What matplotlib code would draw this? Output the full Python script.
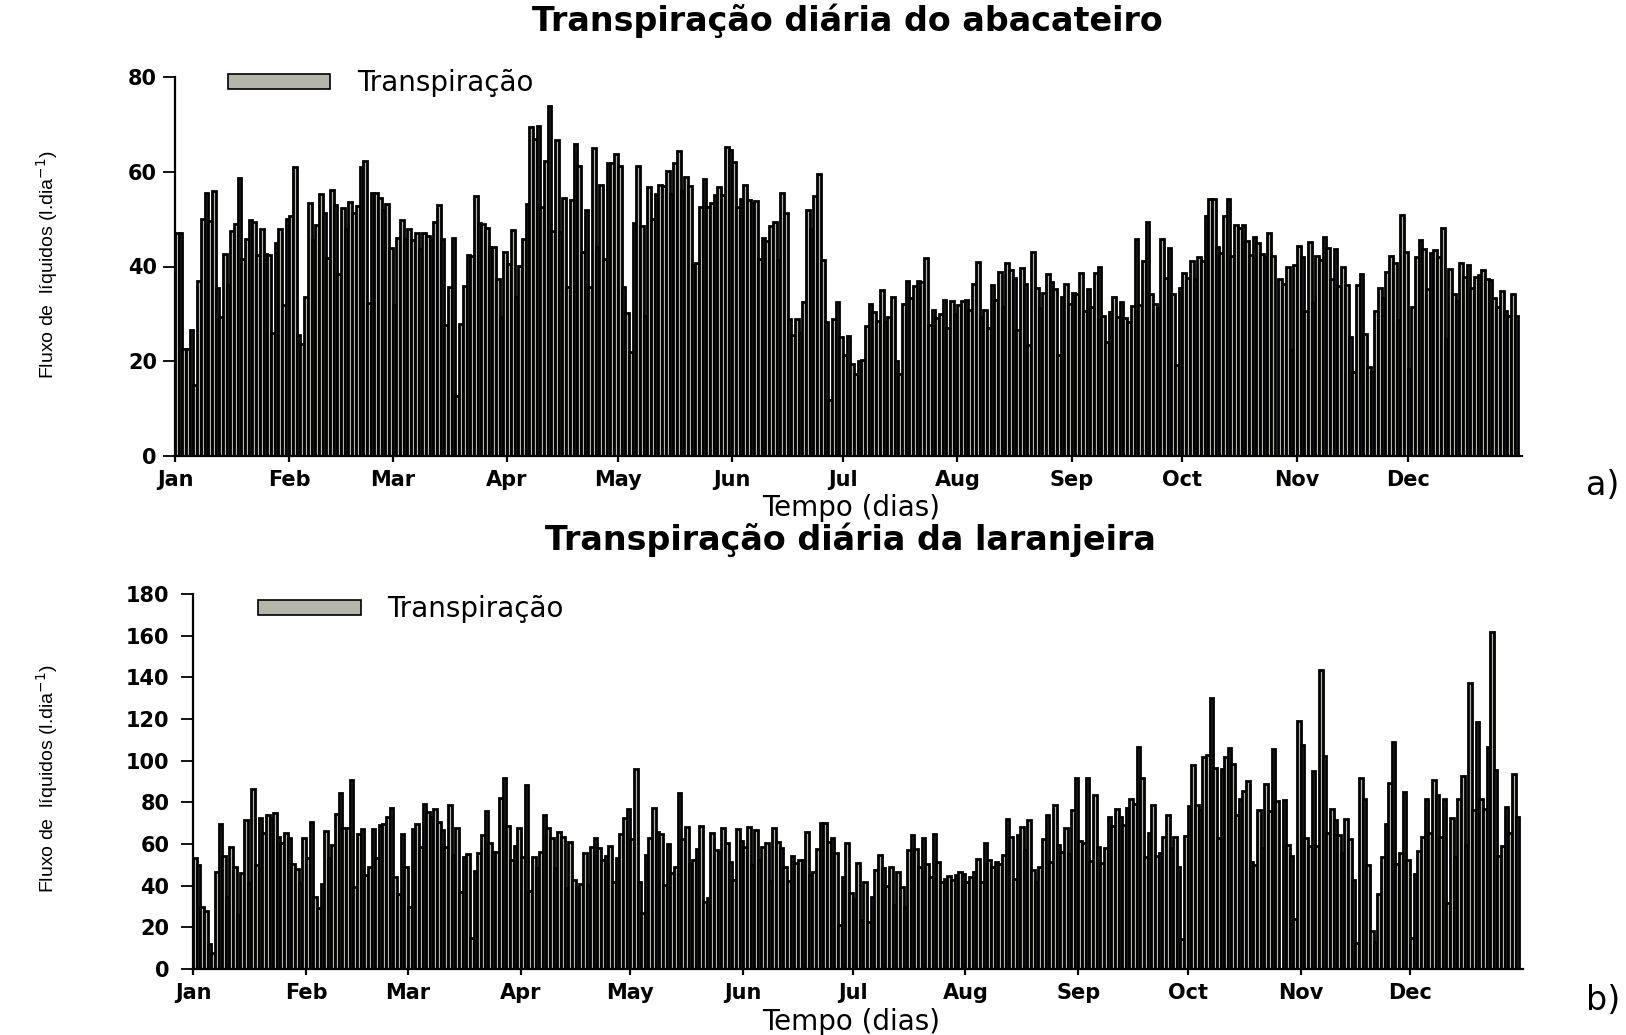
import numpy as np
import matplotlib
matplotlib.use('Agg')
import matplotlib.pyplot as plt

# meses e dia do ano em que cada um começa
meses = ['Jan', 'Feb', 'Mar', 'Apr', 'May', 'Jun', 'Jul', 'Aug', 'Sep', 'Oct', 'Nov', 'Dec']
inicio_mes = [0, 31, 59, 90, 120, 151, 181, 212, 243, 273, 304, 334]

# transpiração diária do abacateiro (l/dia), um mês por linha
abacateiro = [
    47, 47, 22.5, 22.5, 26.7, 15, 37, 50, 55.5, 49.6, 56, 35.5, 29.3, 42.6, 36, 47.4, 49, 58.6, 41.5, 45.8, 49.8, 49.3, 42.4, 48, 42.7, 42.4, 26, 45, 47.9, 31.8, 50,
    50.6, 61, 25.6, 23.7, 33.5, 53.3, 45.5, 48.7, 55.4, 51.3, 41.8, 56.1, 53, 38.5, 52.3, 47.9, 53.7, 51.2, 52.8, 61, 62.3, 32.2, 55.6, 55.6, 54.5, 52, 53.1, 43.8,
    31.8, 46, 49.8, 45.9, 47.9, 45.5, 47, 43.6, 47, 46.5, 45.9, 49.4, 53, 45.8, 27.6, 35.7, 46, 12.7, 27.9, 35.9, 42.5, 42.2, 54.8, 49.1, 49, 48.2, 44.1, 44.1, 37.3, 29.4, 43,
    40.5, 47.7, 33.5, 40.1, 45.8, 53.2, 69.4, 67, 69.6, 52.6, 62.3, 73.8, 47.5, 66.6, 47.2, 54.4, 35.6, 54, 65.9, 61.2, 43.1, 52, 35.7, 65.1, 44.1, 57.3, 41.5, 61.9, 61.9, 63.8,
    61.2, 35.6, 30.2, 22, 49.1, 61.2, 48.6, 29.5, 56.7, 50, 55.4, 57.1, 56.9, 60.2, 55.3, 61.8, 64.3, 55.9, 58.8, 56.9, 40.3, 40.7, 52.6, 58.5, 52.6, 53.5, 55.1, 56.7, 55.1, 65.2, 64.5,
    62, 52.6, 54.2, 57.1, 54, 53.5, 53.9, 41.5, 46.1, 45.4, 48.6, 49.4, 41.4, 55.5, 51.3, 29, 25.5, 29, 26, 32.5, 52, 47.9, 54.8, 59.5, 41.4, 28.2, 11.9, 29, 32.5, 25.1,
    21.3, 25.4, 19.5, 17.4, 20, 20.3, 27.5, 32, 30.4, 28.5, 35, 28.2, 29.4, 33.6, 20.1, 17.4, 32.1, 36.9, 33.4, 35.9, 36.9, 36.7, 41.7, 27.6, 30.9, 29.2, 29.9, 33, 27, 32.7, 30,
    31.8, 32.8, 33, 30.8, 36.4, 41, 29.4, 30.8, 27, 36.1, 32.9, 38.9, 31.5, 40.7, 39.2, 37.6, 26.6, 39.6, 36.4, 23.4, 43.1, 35.5, 31.3, 34.5, 38.5, 36.7, 35.2, 21.4, 33.6, 36.4, 32,
    34.5, 34.3, 38.7, 30.7, 35.2, 31.4, 38.7, 39.8, 29.5, 24, 30.4, 33.5, 29.3, 32.6, 29.2, 28.2, 31.6, 45.8, 31.8, 41.2, 49.3, 34.1, 32.1, 31.3, 45.8, 37.6, 43.8, 34.3, 19.3, 35.5,
    38.7, 37.5, 41.2, 37.3, 42.1, 41.2, 50.6, 54.2, 54.2, 44.2, 42.8, 50.7, 54.2, 42.2, 48.7, 48.1, 48.7, 45.4, 42.4, 46.3, 44.9, 42.6, 41.9, 47, 42.2, 0, 37.4, 36.4, 40, 22.3, 40.3,
    44.4, 42.1, 30.7, 45.1, 32.3, 42.2, 41.4, 46.3, 43.9, 37.3, 43.6, 35.9, 40, 36, 25.1, 17.7, 36, 38.5, 25.8, 18.7, 17.7, 30.6, 35.5, 33.3, 38.9, 42.2, 40.7, 28.7, 50.8, 43.1,
    18.4, 31.4, 41.9, 45.6, 43.6, 35.2, 42.8, 43.5, 41.9, 48.1, 24.6, 39.4, 34.3, 32.7, 40.8, 37.8, 40.3, 35.5, 37.8, 38.3, 39.3, 37.3, 37.1, 33.3, 31.5, 34.8, 30.7, 29.5, 34.1, 29.5,
]

# transpiração diária da laranjeira (l/dia)
laranjeira = [
    53.5, 50, 30, 27.7, 12, 7.7, 46.4, 69.5, 54.3, 34.4, 58.8, 49.2, 26, 46, 71.3, 41.2, 86.3, 49.7, 72.4, 65.5, 74, 72.7, 75.1, 63.6, 60.7, 65.2, 62.8, 50.4, 48.1, 41.2, 62.7,
    53.1, 70.5, 34.5, 29.3, 40.8, 66.3, 53.5, 59.6, 74.3, 84.4, 67.6, 67.6, 90.8, 39.6, 64.9, 67.1, 44.9, 48.9, 67.1, 53.2, 69.2, 69.5, 73.2, 77.2, 44.4, 36, 64.9, 49.2,
    30, 67.1, 69.5, 58.8, 79.3, 75.6, 72.9, 76.9, 70.8, 66.5, 58.8, 78.6, 54.5, 67.9, 36.8, 54, 55.3, 14.7, 47.2, 55.6, 64.3, 75.9, 60.4, 56.1, 56.4, 82, 91.9, 68.7, 52.4, 59.1, 67.6,
    54, 88.4, 37.6, 54, 48.4, 56.1, 74, 67.9, 62.7, 48.4, 66, 63.3, 38.8, 61.2, 42.5, 39.3, 40.9, 55.9, 40.4, 58.8, 63.1, 58.3, 52.4, 54.3, 59.1, 42, 53.5, 64.9, 72.4, 76.9,
    62.3, 96.1, 41.6, 26.9, 54.5, 63.1, 77.5, 66, 64.9, 40.4, 59.9, 46, 48.8, 84.7, 62.5, 68.1, 50.8, 52.1, 57.7, 68.7, 32, 34, 65.5, 57.2, 56.4, 67.9, 60.4, 51.6, 42.8, 67.1, 61.5,
    58.8, 68.1, 50, 66.8, 52.4, 58.8, 60.4, 42.4, 67.6, 61.2, 58, 49.2, 42.4, 54.3, 50.8, 52.4, 52.1, 66, 44.9, 46.8, 57.5, 70.3, 70.3, 61.2, 62.8, 55.9, 20.9, 44.4, 60.7, 36.4,
    33.7, 50.8, 23.7, 41.7, 22.4, 34.8, 47.6, 54.5, 48.4, 40, 48.8, 30.5, 46.5, 39.3, 29.7, 56.9, 64.4, 57.7, 49.2, 62.8, 50.4, 44, 64.7, 51.2, 42, 43.2, 44.8, 42.8, 44.9, 46.4, 45.7,
    42, 44, 46.5, 52.9, 41.6, 60.4, 52.4, 48.9, 51.2, 50.4, 54.5, 71.9, 63.6, 43.3, 64.4, 68.4, 56.9, 71.6, 47.3, 42, 49.2, 62.3, 74, 51.6, 78.6, 59.6, 56.3, 67.6, 55.3, 76.1, 91.6,
    61.5, 60.4, 91.6, 52, 83.6, 58.8, 50.8, 58, 72.9, 68.7, 76.7, 72.9, 69.2, 77.2, 81.7, 79.1, 106.8, 91.6, 53.7, 65.2, 78.6, 54.3, 55.9, 63.3, 73.7, 58, 63.6, 49.2, 14.4, 63.9,
    78.3, 98, 78.8, 76.1, 102, 102.8, 130, 96.4, 63.1, 95.9, 102, 106, 98.5, 74, 81.5, 85.5, 90.3, 51.2, 50, 76.1, 58.3, 88.7, 75.9, 105.5, 80.7, 0, 81.2, 59.6, 54.3, 24, 119,
    107.3, 62.8, 59.1, 95.1, 59.1, 143.5, 102.3, 65.5, 76.9, 71.6, 64.1, 55.6, 72.1, 62.5, 42.5, 12.5, 91.6, 81.7, 49.7, 18.1, 12.9, 36.1, 53.7, 69.5, 89.2, 109.2, 50.5, 55.6, 85.2, 52.4,
    14.9, 45.6, 56.7, 63.6, 81.7, 65.2, 90.5, 83.6, 63.6, 81.7, 31.6, 72.7, 54, 81.8, 92.7, 59.6, 137.5, 76.1, 118.4, 81.7, 76.9, 106.5, 161.6, 95.6, 54.3, 59.1, 77.7, 65.5, 93.7, 72.9,
]

cinza = '#b5b5a9'
W, H = 1626, 1035


def painel(rect, valores, ymax, ystep, leg_xy, ylab_pad):
    ax = fig.add_axes(rect)
    dias = np.arange(len(valores))
    ax.bar(dias, valores, width=1.0, align='edge', color=cinza,
           edgecolor='black', linewidth=2.0, label='Transpiração')
    ax.set_xlim(0, 365)
    ax.set_ylim(0, ymax)
    ax.set_yticks(np.arange(0, ymax + 1, ystep))
    ax.set_xticks(inicio_mes)
    ax.set_xticklabels(meses)
    for s in ['top', 'right']:
        ax.spines[s].set_visible(False)
    for s in ['left', 'bottom']:
        ax.spines[s].set_linewidth(1.6)
    ax.tick_params(axis='y', direction='out', length=9, width=1.3, pad=ylab_pad, labelsize=15)
    ax.tick_params(axis='x', direction='out', length=4, width=1.6, pad=6, labelsize=15)
    for lab in ax.get_xticklabels() + ax.get_yticklabels():
        lab.set_fontweight('bold')
    leg = ax.legend(loc='center left', bbox_to_anchor=leg_xy, frameon=False, fontsize=20,
                    handlelength=3.7, handleheight=0.45, handletextpad=0.95,
                    borderpad=0, borderaxespad=0)
    for p in leg.get_patches():
        p.set_linewidth(1.2)
    return ax


fig = plt.figure(figsize=(W / 100, H / 100), dpi=100)

painel([175 / W, 1 - 456 / H, 1347 / W, 379 / H], abacateiro, 80, 20, (0.039, 0.984), 4)
painel([193 / W, 1 - 969 / H, 1330 / W, 375 / H], laranjeira, 180, 20, (0.049, 0.96), 8)

fig.text(847 / W, 1 - 21 / H, 'Transpiração diária do abacateiro', ha='center', va='center',
         fontsize=24, fontweight='bold')
fig.text(850 / W, 1 - 540 / H, 'Transpiração diária da laranjeira', ha='center', va='center',
         fontsize=24, fontweight='bold')
fig.text(851 / W, 1 - 508 / H, 'Tempo (dias)', ha='center', va='center', fontsize=20)
fig.text(851 / W, 1 - 1022 / H, 'Tempo (dias)', ha='center', va='center', fontsize=20)

ylab = 'Fluxo de  líquidos (l.dia$^{-1}$)'
for y in [265, 779]:
    fig.text(47 / W, 1 - y / H, ylab, rotation=90, ha='center', va='center', fontsize=14,
             family=['Liberation Sans Narrow', 'Liberation Sans', 'DejaVu Sans'])

fig.text(1603 / W, 1 - 485 / H, 'a)', ha='center', va='center', fontsize=24)
fig.text(1603 / W, 1 - 1000 / H, 'b)', ha='center', va='center', fontsize=24)

plt.savefig('out.png', dpi=100)
